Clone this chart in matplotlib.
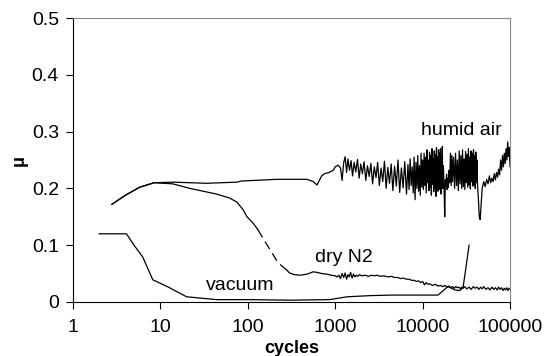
import matplotlib.pyplot as plt

plt.rcParams['font.family'] = ['Liberation Sans', 'DejaVu Sans']

# humid air: smooth start, then noisy stretch
humid_x0 = [2.8, 4, 5.8, 8.5, 14, 34, 75, 85, 215, 475, 560, 620, 700, 760, 850, 950, 1000, 1080, 1150, 1200, 1250, 1300]
humid_y0 = [0.172, 0.188, 0.202, 0.210, 0.211, 0.209, 0.211, 0.213, 0.216, 0.216, 0.212, 0.206, 0.222, 0.226, 0.228, 0.232, 0.238, 0.241, 0.236, 0.214, 0.245, 0.256]
humid_xa = [1350, 1400, 1460, 1520, 1580, 1650, 1720, 1800, 1880, 1960, 2050, 2140, 2240, 2340, 2450, 2560, 2680, 2800, 2930, 3060, 3200, 3350, 3500, 3660, 3830, 4000, 4180, 4370, 4570, 4780, 5000, 5230, 5470, 5720, 5980, 6250, 6540]
humid_ya = [0.228, 0.252, 0.232, 0.249, 0.222, 0.246, 0.229, 0.251, 0.218, 0.243, 0.226, 0.247, 0.214, 0.240, 0.221, 0.244, 0.208, 0.238, 0.219, 0.246, 0.205, 0.236, 0.212, 0.248, 0.200, 0.237, 0.209, 0.243, 0.196, 0.239, 0.204, 0.250, 0.193, 0.236, 0.201, 0.247, 0.190]
humid_xb = [6800, 7000, 7200, 7400, 7600, 7800, 8000, 8200, 8400, 8600, 8800, 9000, 9200, 9400, 9600, 9800, 10000]
humid_yb = [0.242, 0.198, 0.252, 0.205, 0.238, 0.192, 0.255, 0.180, 0.246, 0.200, 0.258, 0.195, 0.240, 0.188, 0.262, 0.202, 0.250]
humid_xc = [10200, 10400, 10600, 10800, 11000, 11200, 11400, 11600, 11800, 12000, 12200, 12400, 12600, 12800, 13000, 13200, 13400, 13600, 13800, 14000, 14200, 14400, 14600, 14800, 15000, 15200, 15400, 15600, 15800, 16000, 16200, 16400, 16600, 16800, 17000]
humid_yc = [0.198, 0.262, 0.205, 0.255, 0.192, 0.268, 0.210, 0.250, 0.196, 0.264, 0.202, 0.258, 0.188, 0.270, 0.207, 0.252, 0.194, 0.266, 0.200, 0.260, 0.186, 0.272, 0.205, 0.256, 0.195, 0.268, 0.210, 0.262, 0.198, 0.270, 0.190, 0.258, 0.204, 0.274, 0.200]
humid_xd = [17300, 17600, 17900, 18200, 18500, 18800, 19100, 19400, 19700, 20000, 20400, 20800, 21200, 21600, 22000]
humid_yd = [0.240, 0.200, 0.150, 0.215, 0.205, 0.225, 0.198, 0.218, 0.202, 0.232, 0.210, 0.262, 0.205, 0.258, 0.212]
humid_xe = [22600, 23200, 23800, 24400, 25000, 25600, 26200, 26800, 27400, 28000, 28600, 29200, 29800, 30400, 31000, 31600, 32200, 32800, 33400, 34000, 34600, 35200, 35800, 36400, 37000, 37600, 38200, 38800, 39400, 40000, 40600, 41200, 41800]
humid_ye = [0.255, 0.200, 0.262, 0.205, 0.250, 0.196, 0.266, 0.208, 0.258, 0.200, 0.268, 0.203, 0.252, 0.198, 0.265, 0.210, 0.260, 0.202, 0.270, 0.206, 0.255, 0.199, 0.266, 0.212, 0.262, 0.204, 0.268, 0.208, 0.258, 0.200, 0.264, 0.210, 0.250]
humid_xf = [42500, 43500, 44500, 45500, 46500, 48000, 50000, 52000, 54000, 56000, 58000, 60000, 62000, 64000, 66000, 68000, 70000, 72000, 74000, 76000, 78000, 80000, 82000, 84000, 86000, 88000, 90000, 92000, 94000, 96000, 98000, 100000]
humid_yf = [0.205, 0.180, 0.150, 0.145, 0.168, 0.200, 0.212, 0.203, 0.216, 0.208, 0.222, 0.210, 0.218, 0.212, 0.226, 0.215, 0.228, 0.220, 0.234, 0.224, 0.250, 0.232, 0.258, 0.238, 0.262, 0.244, 0.270, 0.250, 0.282, 0.256, 0.272, 0.238]

# dry N2: solid, dashed gap, solid
dry_x1 = [2.8, 4, 5.8, 8.5, 13.9, 21.8, 44, 62, 75, 88, 98, 115, 131]
dry_y1 = [0.172, 0.188, 0.202, 0.210, 0.208, 0.200, 0.190, 0.183, 0.176, 0.163, 0.150, 0.139, 0.127]
dry_xdash = [131, 155, 180, 222, 280]
dry_ydash = [0.127, 0.108, 0.092, 0.069, 0.056]
dry_x2 = [280, 300, 340, 400, 480, 560, 620, 700, 800, 900, 1000, 1050,
          1100, 1150, 1200, 1250, 1300, 1350, 1400, 1450, 1500, 1560, 1620, 1680, 1750, 1820, 1900,
          2000, 2200, 2400, 2600, 2800, 3000, 3300, 3600, 4000, 4400, 4800, 5200, 5600, 6000,
          6500, 7000, 7500, 8000, 8500, 9000, 9500, 10000, 10500, 11000, 11500, 12000, 13000,
          14000, 15000, 16000, 17000, 18000, 19000, 20000, 21000, 22000, 23000, 24000, 25000,
          26000, 27000, 28000, 29000, 30000, 32000, 34000, 36000, 38000, 40000, 42000, 44000,
          46000, 48000, 50000, 53000, 56000, 59000, 62000, 65000, 68000, 71000, 74000, 77000,
          80000, 83000, 86000, 89000, 92000, 95000, 98000, 100000]
dry_y2 = [0.056, 0.051, 0.048, 0.047, 0.049, 0.053, 0.052, 0.050, 0.049, 0.047, 0.046, 0.044,
          0.047, 0.041, 0.050, 0.043, 0.051, 0.040, 0.048, 0.044, 0.052, 0.042, 0.049, 0.044, 0.047, 0.045, 0.048,
          0.046, 0.047, 0.045, 0.047, 0.046, 0.047, 0.045, 0.046, 0.044, 0.045, 0.043, 0.043, 0.041, 0.042,
          0.040, 0.040, 0.038, 0.038, 0.036, 0.037, 0.034, 0.036, 0.030, 0.034, 0.031, 0.032, 0.029,
          0.031, 0.028, 0.029, 0.027, 0.029, 0.026, 0.028, 0.025, 0.027, 0.024, 0.027, 0.025,
          0.026, 0.023, 0.026, 0.024, 0.027, 0.023, 0.026, 0.022, 0.027, 0.024, 0.026, 0.022,
          0.026, 0.023, 0.027, 0.022, 0.025, 0.021, 0.026, 0.022, 0.025, 0.021, 0.026, 0.022,
          0.025, 0.020, 0.024, 0.021, 0.025, 0.020, 0.024, 0.023]

# vacuum
vac_x = [2, 4.1, 5, 6.3, 8.2, 12, 20, 44, 100, 300, 870, 1370, 2500, 4300, 15000, 19500, 23500, 26600, 29000, 31000, 34000]
vac_y = [0.12, 0.12, 0.100, 0.079, 0.039, 0.027, 0.009, 0.004, 0.004, 0.003, 0.004, 0.009, 0.011, 0.012, 0.012, 0.027, 0.021, 0.020, 0.025, 0.056, 0.100]

xticks = [1, 10, 100, 1000, 10000, 100000]
yticks = [0, 0.1, 0.2, 0.3, 0.4, 0.5]

humid_x = humid_x0 + humid_xa + humid_xb + humid_xc + humid_xd + humid_xe + humid_xf
humid_y = humid_y0 + humid_ya + humid_yb + humid_yc + humid_yd + humid_ye + humid_yf

fig = plt.figure(figsize=(5.52, 3.56), dpi=100)
ax = fig.add_axes([0.132, 0.152, 0.792, 0.797])

lw = 0.9
ax.plot(humid_x, humid_y, color='black', lw=lw)
ax.plot(dry_x1, dry_y1, color='black', lw=lw)
ax.plot(dry_xdash, dry_ydash, color='black', lw=lw, dashes=(7, 4))
ax.plot(dry_x2, dry_y2, color='black', lw=lw)
ax.plot(vac_x, vac_y, color='black', lw=lw)

ax.set_xscale('log')
ax.set_xlim(1, 100000)
ax.set_ylim(0, 0.5)
ax.set_xticks(xticks)
ax.set_xticklabels([str(t) for t in xticks])
ax.set_yticks(yticks)
ax.set_yticklabels(['0', '0.1', '0.2', '0.3', '0.4', '0.5'])
ax.minorticks_off()
ax.tick_params(direction='out', length=5, width=0.8, labelsize=14, colors='black')
ax.tick_params(axis='x', pad=7)
ax.tick_params(axis='y', pad=5)

for side in ['top', 'right']:
    ax.spines[side].set_color('#888888')
    ax.spines[side].set_linewidth(0.8)
for side in ['left', 'bottom']:
    ax.spines[side].set_color('black')
    ax.spines[side].set_linewidth(0.8)

ax.text(81000, 0.294, 'humid air', fontsize=14, ha='right', va='baseline')
ax.text(588, 0.070, 'dry N2', fontsize=14, ha='left', va='baseline')
ax.text(82, 0.021, 'vacuum', fontsize=14, ha='center', va='baseline')

ax.set_xlabel('cycles', fontsize=13, fontweight='bold', labelpad=3)
ax.set_ylabel('μ', fontsize=13, fontweight='bold', labelpad=3)

fig.savefig('out.png', dpi=100)
